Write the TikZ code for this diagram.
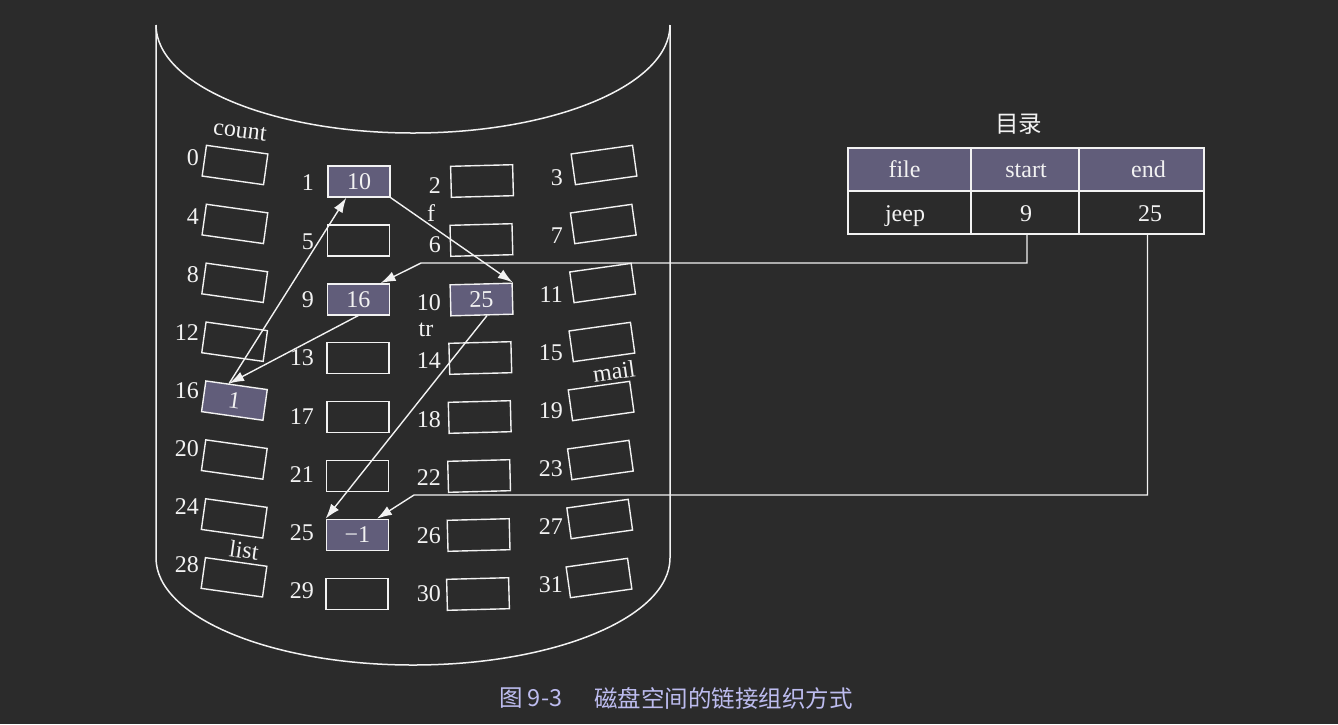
\documentclass[tikz,border=0pt]{standalone}
\usepackage{fontspec}
\setmainfont{Liberation Serif}
\newfontfamily\cjk{Noto Sans CJK SC}
\usetikzlibrary{arrows.meta,calc}
\definecolor{bg}{HTML}{2B2B2B}
\definecolor{fg}{HTML}{F2F2F2}
\definecolor{usedc}{HTML}{615D7A}
\definecolor{capc}{HTML}{BDBCEF}
\tikzset{
  blk/.style={draw=fg, line width=1.4pt, minimum width=62pt, minimum height=31pt, inner sep=0pt},
  usedblk/.style={blk, fill=usedc},
  num/.style={text=fg, font=\fontsize{24}{28}\selectfont, inner sep=0pt},
  lnk/.style={draw=fg, line width=1.4pt, -{Latex[length=15pt,width=10pt]}},
  cell/.style={draw=fg, line width=1.3pt, inner sep=0pt, minimum height=43pt},
}
\begin{document}
\begin{tikzpicture}[x=1pt,y=-1pt]
\fill[bg] (0,0) rectangle (1338,724);
\useasboundingbox (0,0) rectangle (1338,724);
% cylinder
\draw[fg, line width=1.5pt] (156,25) .. controls (156,84.6) and (271.1,133) .. (413,133)
   .. controls (554.9,133) and (670,84.6) .. (670,25);
\draw[fg, line width=1.5pt] (156,25) -- (156,558) .. controls (156,617.1) and (271.1,665) .. (413,665)
   .. controls (554.9,665) and (670,617.1) .. (670,558) -- (670,25);
% plain blocks
\foreach \id/\x/\y in {0/235/165, 4/234.9/223.9, 8/234.7/282.8, 12/234.6/341.7, 20/234.3/459.5, 24/234.2/518.4, 28/234/577.3}
  \node[blk, rotate=-8] (b\id) at (\x,\y) {};
\foreach \id/\x/\y in {5/358.7/240.4, 13/358.1/358.2, 17/357.9/417.1, 21/357.6/476, 29/357/593.8}
  \node[blk] (b\id) at (\x,\y) {};
\foreach \id/\x/\y in {2/482/181, 6/481.4/240, 14/480.3/358, 18/479.7/417, 22/479.1/476, 26/478.6/535, 30/478/594}
  \node[blk, rotate=1.5] (b\id) at (\x,\y) {};
\foreach \id/\x/\y in {3/604/165, 7/603.3/224, 11/602.6/283, 15/601.9/342, 19/601.1/401, 23/600.4/460, 27/599.7/519, 31/599/578}
  \node[blk, rotate=8] (b\id) at (\x,\y) {};
% used blocks
\node[usedblk, num, rotate=-8] (b16) at (234.4,400.6) {1};
\node[usedblk, num] (b1) at (359,181.5) {10};
\node[usedblk, num] (b9) at (358.4,299.3) {16};
\node[usedblk, num] (b25) at (357.3,534.9) {−1};
\node[usedblk, num, rotate=1.5] (b10) at (481.5,299.5) {25};
% block numbers
\foreach \i in {0,...,7} {
  \pgfmathtruncatemacro\na{4*\i}
  \pgfmathtruncatemacro\nb{4*\i+1}
  \pgfmathtruncatemacro\nc{4*\i+2}
  \pgfmathtruncatemacro\nd{4*\i+3}
  \node[num, anchor=east] (n\na) at (199,{158+58.1*\i}) {\na};
  \node[num, anchor=east] (n\nb) at (314,{183+58.3*\i}) {\nb};
  \node[num, anchor=east] (n\nc) at (441,{186+58.3*\i}) {\nc};
  \node[num, anchor=east] (n\nd) at (563,{178+58.1*\i}) {\nd};
}
% file names
\node[num, rotate=-7] (tcount) at (240,131) {count};
\node[num] (tf) at (431,213) {f};
\node[num] (ttr) at (426,330) {tr};
\node[num, rotate=8] (tmail) at (614,371) {mail};
\node[num, rotate=-8] (tlist) at (244,550) {list};
% links
\draw[lnk] ($(b16.north west)!0.38!(b16.north east)$) -- ($(b1.south west)!0.3!(b1.south east)$);
\draw[lnk] (b1.south east) -- (b10.north east);
\draw[lnk] (b9.south) -- ($(b16.north west)!0.38!(b16.north east)$);
\draw[lnk] ($(b10.south west)!0.58!(b10.south east)$) -- (b25.north west);
% directory table
\node[num, font=\cjk\fontsize{23.5}{26}\selectfont] (title) at (1018.5,124) {目录};
\node[cell, fill=usedc, minimum width=123pt] (h1) at (909.5,169.5) {};
\node[cell, fill=usedc, minimum width=108pt] (h2) at (1025,169.5) {};
\node[cell, fill=usedc, minimum width=125pt] (h3) at (1141.5,169.5) {};
\node[cell, minimum width=123pt] (r1) at (909.5,212.5) {};
\node[cell, minimum width=108pt] (r2) at (1025,212.5) {};
\node[cell, minimum width=125pt] (r3) at (1141.5,212.5) {};
\node[num, anchor=base] (th1) at (904.5,177) {file};
\node[num, anchor=base] (th2) at (1026,177) {start};
\node[num, anchor=base] (th3) at (1148.5,177) {end};
\node[num, anchor=base] (td1) at (905,221) {jeep};
\node[num, anchor=base] (td2) at (1026,221) {9};
\node[num, anchor=base] (td3) at (1150,221) {25};
% directory pointers
\coordinate (k1) at (421,263);
\coordinate (k2) at (414,495);
\draw[lnk] ($(r2.south)+(2,0)$) |- (k1) -- ($(b9.north west)!0.85!(b9.north east)$);
\draw[lnk] ($(r3.south)+(6,0)$) |- (k2) -- ($(b25.north west)!0.81!(b25.north east)$);
% caption
\node[anchor=west, inner sep=0pt, text=capc, font=\cjk\fontsize{23.5}{26}\selectfont] (cap1) at (499,698) {图 9-3};
\node[anchor=west, inner sep=0pt, text=capc, font=\cjk\fontsize{23.5}{26}\selectfont] (cap2) at (594,698) {磁盘空间的链接组织方式};
\end{tikzpicture}
\end{document}
